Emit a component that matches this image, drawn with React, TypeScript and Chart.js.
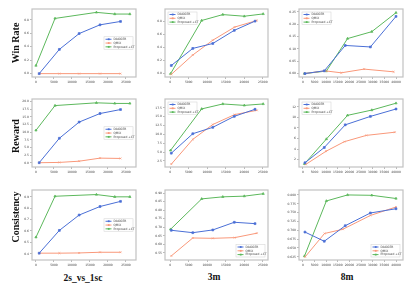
import React, { useEffect, useRef } from "react";
import { Chart, registerables } from "chart.js";
Chart.register(...registerables);

const seriesNames = ["DAGGER", "QMIX", "Proposed +CT"];
const seriesColors = ["#4a6fd6", "#f9987a", "#5cb85c"];
const rowLabels = ["Win Rate", "Reward", "Consistency"];
const colLabels = ["2s_vs_1sc", "3m", "8m"];

// x positions (training steps)
const xTicksShort = [0, 5000, 10000, 15000, 20000, 25000];
const xTicksLong = [0, 5000, 10000, 15000, 20000, 25000, 30000, 35000, 40000];
const c1DaggerX = [900, 6500, 12000, 17800, 23500];
const c1QmixX = [900, 6500, 12000, 17800, 23500];
const c1PropX = [0, 5300, 16800, 21900, 26100];
const c2DaggerX = [300, 6100, 11500, 17300, 22900];
const c2QmixX = [300, 6100, 11500, 17400, 23400];
const c2PropX = [100, 8500, 14200, 20000, 25100];
const c3DaggerX = [900, 9200, 18200, 29000, 40000];
const c3PropX = [700, 10100, 19200, 29600, 40000];
const r1c3QmixX = [700, 9500, 16500, 26300, 39000];
const r2c3QmixX = [1300, 10000, 17800, 27300, 39500];
const r3c3QmixX = [1000, 9300, 17200, 29000, 40000];

// Win Rate
const winC1Dagger = [0.0, 0.36, 0.595, 0.725, 0.775];
const winC1Qmix = [0.0, 0.0, 0.0, 0.0, 0.0];
const winC1Prop = [0.12, 0.82, 0.91, 0.885, 0.885];
const winC2Dagger = [0.125, 0.385, 0.46, 0.66, 0.8];
const winC2Qmix = [-0.01, 0.285, 0.51, 0.71, 0.81];
const winC2Prop = [0.0, 0.81, 0.9, 0.875, 0.91];
const winC3Dagger = [0.0, 0.011, 0.114, 0.108, 0.232];
const winC3Qmix = [0.0, 0.011, 0.003, 0.018, 0.007];
const winC3Prop = [0.0, 0.01, 0.142, 0.17, 0.247];

// Reward
const rewC1Dagger = [0.0, 8.0, 13.3, 16.1, 17.4];
const rewC1Qmix = [0.0, 0.1, 0.5, 1.5, 1.4];
const rewC1Prop = [10.6, 18.7, 19.6, 19.4, 19.4];
const rewC2Dagger = [4.7, 10.2, 12.0, 15.1, 17.1];
const rewC2Qmix = [1.6, 8.6, 12.8, 15.6, 16.8];
const rewC2Prop = [5.5, 17.2, 18.6, 18.2, 18.6];
const rewC3Dagger = [1.4, 4.3, 8.6, 10.2, 11.6];
const rewC3Qmix = [1.1, 3.6, 5.4, 6.6, 7.2];
const rewC3Prop = [1.2, 5.9, 10.4, 11.4, 12.7];

// Consistency
const conC1Dagger = [0.405, 0.605, 0.74, 0.815, 0.86];
const conC1Qmix = [0.405, 0.405, 0.407, 0.413, 0.413];
const conC1Prop = [0.545, 0.905, 0.92, 0.9, 0.9];
const conC2Dagger = [0.682, 0.668, 0.684, 0.729, 0.721];
const conC2Qmix = [0.532, 0.637, 0.635, 0.639, 0.665];
const conC2Prop = [0.688, 0.866, 0.878, 0.882, 0.896];
const conC3Dagger = [0.695, 0.669, 0.713, 0.749, 0.761];
const conC3Qmix = [0.625, 0.691, 0.703, 0.742, 0.766];
const conC3Prop = [0.627, 0.783, 0.8, 0.799, 0.79];

// y tick labels
const yTicksWinC12 = [0, 0.2, 0.4, 0.6, 0.8];
const yTicksWinC3 = [0, 0.05, 0.1, 0.15, 0.2, 0.25];
const yTicksRewC1 = [0, 2.5, 5, 7.5, 10, 12.5, 15, 17.5, 20];
const yTicksRewC2 = [2.5, 5, 7.5, 10, 12.5, 15, 17.5];
const yTicksRewC3 = [2, 4, 6, 8, 10, 12];
const yTicksConC1 = [0.4, 0.5, 0.6, 0.7, 0.8, 0.9];
const yTicksConC2 = [0.55, 0.6, 0.65, 0.7, 0.75, 0.8, 0.85, 0.9];
const yTicksConC3 = [0.625, 0.65, 0.675, 0.7, 0.725, 0.75, 0.775, 0.8];

const zip = (xs: number[], ys: number[]) => xs.map((x, i) => ({ x, y: ys[i] }));

type Panel = {
  col: number;
  row: number;
  xs: number[][];
  ys: number[][];
  xMin: number;
  xMax: number;
  yMin: number;
  yMax: number;
  xTicks: number[];
  yTicks: number[];
  yDec: number;
  legend: "cr" | "ul" | "lr";
};

const panels: Panel[] = [
  { row: 0, col: 0, xs: [c1DaggerX, c1QmixX, c1PropX], ys: [winC1Dagger, winC1Qmix, winC1Prop], xMin: -1100, xMax: 27800, yMin: -0.05, yMax: 0.96, xTicks: xTicksShort, yTicks: yTicksWinC12, yDec: 1, legend: "cr" },
  { row: 0, col: 1, xs: [c2DaggerX, c2QmixX, c2PropX], ys: [winC2Dagger, winC2Qmix, winC2Prop], xMin: -1400, xMax: 26400, yMin: -0.05, yMax: 0.985, xTicks: xTicksShort, yTicks: yTicksWinC12, yDec: 1, legend: "ul" },
  { row: 0, col: 2, xs: [c3DaggerX, r1c3QmixX, c3PropX], ys: [winC3Dagger, winC3Qmix, winC3Prop], xMin: -1650, xMax: 43000, yMin: -0.014, yMax: 0.262, xTicks: xTicksLong, yTicks: yTicksWinC3, yDec: 2, legend: "ul" },
  { row: 1, col: 0, xs: [c1DaggerX, c1QmixX, c1PropX], ys: [rewC1Dagger, rewC1Qmix, rewC1Prop], xMin: -1100, xMax: 27800, yMin: -1.4, yMax: 20.85, xTicks: xTicksShort, yTicks: yTicksRewC1, yDec: 1, legend: "cr" },
  { row: 1, col: 1, xs: [c2DaggerX, c2QmixX, c2PropX], ys: [rewC2Dagger, rewC2Qmix, rewC2Prop], xMin: -1400, xMax: 26400, yMin: 0.8, yMax: 20.0, xTicks: xTicksShort, yTicks: yTicksRewC2, yDec: 1, legend: "ul" },
  { row: 1, col: 2, xs: [c3DaggerX, r2c3QmixX, c3PropX], ys: [rewC3Dagger, rewC3Qmix, rewC3Prop], xMin: -1650, xMax: 43000, yMin: 0.6, yMax: 13.5, xTicks: xTicksLong, yTicks: yTicksRewC3, yDec: 0, legend: "ul" },
  { row: 2, col: 0, xs: [c1DaggerX, c1QmixX, c1PropX], ys: [conC1Dagger, conC1Qmix, conC1Prop], xMin: -1100, xMax: 27800, yMin: 0.345, yMax: 0.96, xTicks: xTicksShort, yTicks: yTicksConC1, yDec: 1, legend: "cr" },
  { row: 2, col: 1, xs: [c2DaggerX, c2QmixX, c2PropX], ys: [conC2Dagger, conC2Qmix, conC2Prop], xMin: -1400, xMax: 26400, yMin: 0.508, yMax: 0.918, xTicks: xTicksShort, yTicks: yTicksConC2, yDec: 2, legend: "lr" },
  { row: 2, col: 2, xs: [c3DaggerX, r3c3QmixX, c3PropX], ys: [conC3Dagger, conC3Qmix, conC3Prop], xMin: -1650, xMax: 43000, yMin: 0.616, yMax: 0.814, xTicks: xTicksLong, yTicks: yTicksConC3, yDec: 3, legend: "lr" },
];

const colBox = [[32, 136], [165, 268], [299, 403]];
const rowBox = [[9, 77], [99, 167], [190, 260]];
const YW = 18;
const XH = 10;
const PT = 5;
const PR = 9;

const pointStyles = ["rect", "crossRot", "triangle"];

const framePlugin = {
  id: "frame",
  afterDraw(chart: any) {
    const { ctx, chartArea: a } = chart;
    ctx.save();
    ctx.strokeStyle = "#c2c2c2";
    ctx.lineWidth = 1.2;
    ctx.strokeRect(a.left, a.top, a.right - a.left, a.bottom - a.top);
    ctx.restore();
  },
};

const legendPlugin = {
  id: "miniLegend",
  afterDraw(chart: any, _args: any, opts: any) {
    const { ctx, chartArea: a } = chart;
    const w = 29;
    const h = 12.5;
    let x = a.left + 3;
    let y = a.top + 3;
    if (opts.pos === "cr") {
      x = a.right - w - 3;
      y = (a.top + a.bottom) / 2 - h / 2;
    } else if (opts.pos === "lr") {
      x = a.right - w - 3;
      y = a.bottom - h - 3;
    }
    ctx.save();
    ctx.fillStyle = "rgba(255,255,255,0.9)";
    ctx.strokeStyle = "#d8d8d8";
    ctx.lineWidth = 0.6;
    ctx.fillRect(x, y, w, h);
    ctx.strokeRect(x, y, w, h);
    ctx.font = "3px 'DejaVu Sans'";
    ctx.textBaseline = "middle";
    seriesNames.forEach((name, i) => {
      const cy = y + 2.5 + i * 3.8;
      ctx.strokeStyle = seriesColors[i];
      ctx.lineWidth = 1;
      ctx.beginPath();
      ctx.moveTo(x + 1.5, cy);
      ctx.lineTo(x + 7.5, cy);
      ctx.stroke();
      ctx.fillStyle = seriesColors[i];
      ctx.fillRect(x + 3.8, cy - 0.9, 1.8, 1.8);
      ctx.fillStyle = "#444";
      ctx.fillText(name, x + 9.5, cy);
    });
    ctx.restore();
  },
};

function PanelChart({ p }: { p: Panel }) {
  const ref = useRef<HTMLCanvasElement>(null);
  const [bl, br] = colBox[p.col];
  const [bt, bb] = rowBox[p.row];
  const width = br - bl + YW + PR;
  const height = bb - bt + PT + XH;
  useEffect(() => {
    if (!ref.current) return;
    const tickFont = { size: 3, family: "DejaVu Sans" };
    const chart = new Chart(ref.current, {
      type: "line",
      data: {
        datasets: seriesNames.map((name, i) => ({
          label: name,
          data: zip(p.xs[i], p.ys[i]),
          borderColor: seriesColors[i],
          backgroundColor: seriesColors[i],
          borderWidth: 1,
          pointStyle: pointStyles[i] as any,
          pointRadius: 1.3,
          pointBorderWidth: 0.7,
          tension: 0,
        })),
      },
      options: {
        responsive: false,
        animation: false,
        devicePixelRatio: 1,
        layout: { padding: { top: PT, right: PR, left: 0, bottom: 0 } },
        plugins: {
          legend: { display: false },
          tooltip: { enabled: false },
          miniLegend: { pos: p.legend },
        } as any,
        scales: {
          x: {
            type: "linear",
            min: p.xMin,
            max: p.xMax,
            afterBuildTicks: (s: any) => {
              s.ticks = p.xTicks.map((v) => ({ value: v }));
            },
            afterFit: (s: any) => {
              s.height = XH;
            },
            ticks: {
              font: tickFont,
              color: "#444",
              padding: 1,
              maxRotation: 0,
              autoSkip: false,
              callback: (v: any) => String(v),
            },
            grid: { display: true, drawOnChartArea: false, tickLength: 2, color: "#777", lineWidth: 0.5 },
            border: { display: false },
          },
          y: {
            type: "linear",
            min: p.yMin,
            max: p.yMax,
            afterBuildTicks: (s: any) => {
              s.ticks = p.yTicks.map((v) => ({ value: v }));
            },
            afterFit: (s: any) => {
              s.width = YW;
            },
            ticks: {
              font: tickFont,
              color: "#444",
              padding: 1,
              autoSkip: false,
              callback: (v: any) => Number(v).toFixed(p.yDec),
            },
            grid: { display: true, drawOnChartArea: false, tickLength: 2, color: "#777", lineWidth: 0.5 },
            border: { display: false },
          },
        },
      },
      plugins: [framePlugin, legendPlugin],
    } as any);
    return () => chart.destroy();
  }, []);
  return (
    <canvas
      ref={ref}
      width={width}
      height={height}
      style={{ position: "absolute", left: bl - YW, top: bt - PT, width, height }}
    />
  );
}

const rowLabelPos = [[15, 43], [15, 136], [15, 217]];
const colLabelPos = [[83, 278], [214, 277], [347, 277]];

export default function App() {
  return (
    <div style={{ position: "fixed", left: 0, top: 0, width: 415, height: 288, background: "#fff", overflow: "hidden" }}>
      {panels.map((p, i) => (
        <PanelChart key={i} p={p} />
      ))}
      {rowLabels.map((t, i) => (
        <div
          key={"r" + i}
          style={{
            position: "absolute",
            left: rowLabelPos[i][0],
            top: rowLabelPos[i][1],
            transform: "translate(-50%, -50%) rotate(-90deg)",
            whiteSpace: "nowrap",
            font: "bold 10px 'Liberation Serif'",
            color: "#111",
          }}
        >
          {t}
        </div>
      ))}
      {colLabels.map((t, i) => (
        <div
          key={"c" + i}
          style={{
            position: "absolute",
            left: colLabelPos[i][0],
            top: colLabelPos[i][1],
            transform: "translate(-50%, -50%)",
            whiteSpace: "nowrap",
            font: "bold 9.5px 'Liberation Serif'",
            color: "#111",
          }}
        >
          {t}
        </div>
      ))}
    </div>
  );
}
